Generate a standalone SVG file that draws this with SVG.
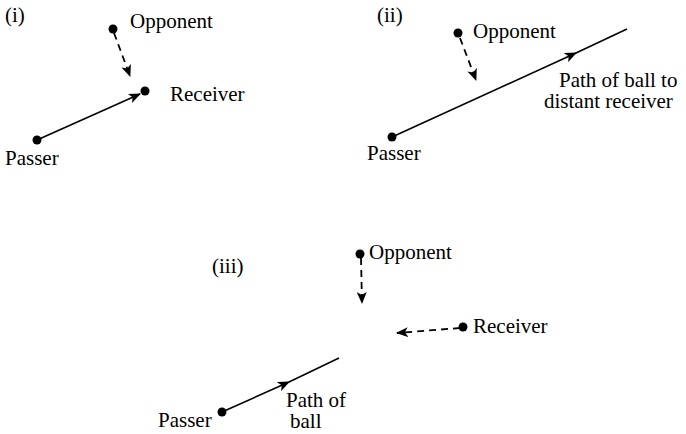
<svg xmlns="http://www.w3.org/2000/svg" width="686" height="434" viewBox="0 0 686 434">
<defs>
<style>
.t{font-family:'Liberation Serif',serif;font-size:21px;fill:#000}
.ln{fill:none;stroke:#000;stroke-width:1.6}
.dash{stroke-dasharray:7 5;stroke-width:1.8}
.dot{fill:#000}
</style>
<marker id="ah" viewBox="0 0 12 10" refX="11" refY="5" markerWidth="12" markerHeight="10" markerUnits="userSpaceOnUse" orient="auto">
<path d="M0,0 L12,5 L0,10 L3,5 Z" fill="#000"/>
</marker>
</defs>
<rect width="686" height="434" fill="#fff"/>

<g id="connectors">
<line class="ln dash" x1="114" y1="33" x2="130" y2="76" marker-end="url(#ah)"/>
<line class="ln" x1="37" y1="140" x2="140" y2="94" marker-end="url(#ah)"/>
<line class="ln dash" x1="460" y1="38" x2="476" y2="80" marker-end="url(#ah)"/>
<polyline class="ln" points="392,137 576,53 627,29" marker-mid="url(#ah)"/>
<line class="ln dash" x1="361" y1="258" x2="362" y2="303" marker-end="url(#ah)"/>
<line class="ln dash" x1="460" y1="328" x2="397" y2="333" marker-end="url(#ah)"/>
<polyline class="ln" points="222,412 289,382 339,358" marker-mid="url(#ah)"/>
</g>

<g font-family="Liberation Serif, serif" font-size="21">
<g id="label-i"><text class="t" x="5" y="22">(i)</text></g>
<g id="opponent-i"><circle class="dot" cx="113" cy="29" r="4.5"/><text class="t" x="130" y="28">Opponent</text></g>
<g id="receiver-i"><circle class="dot" cx="145" cy="91" r="4.5"/><text class="t" x="170" y="101">Receiver</text></g>
<g id="passer-i"><circle class="dot" cx="37" cy="140" r="4.5"/><text class="t" x="5" y="165">Passer</text></g>

<g id="label-ii"><text class="t" x="377" y="22">(ii)</text></g>
<g id="opponent-ii"><circle class="dot" cx="458" cy="33" r="4.5"/><text class="t" x="473" y="38">Opponent</text></g>
<g id="passer-ii"><circle class="dot" cx="392" cy="137" r="4.5"/><text class="t" x="367" y="160">Passer</text></g>
<g id="path-ii"><text class="t" x="559" y="87">Path of ball to</text><text class="t" x="544" y="108">distant receiver</text></g>

<g id="label-iii"><text class="t" x="212" y="273">(iii)</text></g>
<g id="opponent-iii"><circle class="dot" cx="360" cy="254" r="4.5"/><text class="t" x="369" y="259">Opponent</text></g>
<g id="receiver-iii"><circle class="dot" cx="463" cy="327" r="4.5"/><text class="t" x="473" y="333">Receiver</text></g>
<g id="passer-iii"><circle class="dot" cx="222" cy="412" r="4.5"/><text class="t" x="158" y="427">Passer</text></g>
<g id="path-iii"><text class="t" x="286" y="407">Path of</text><text class="t" x="290" y="428">ball</text></g>
</g>
</svg>
